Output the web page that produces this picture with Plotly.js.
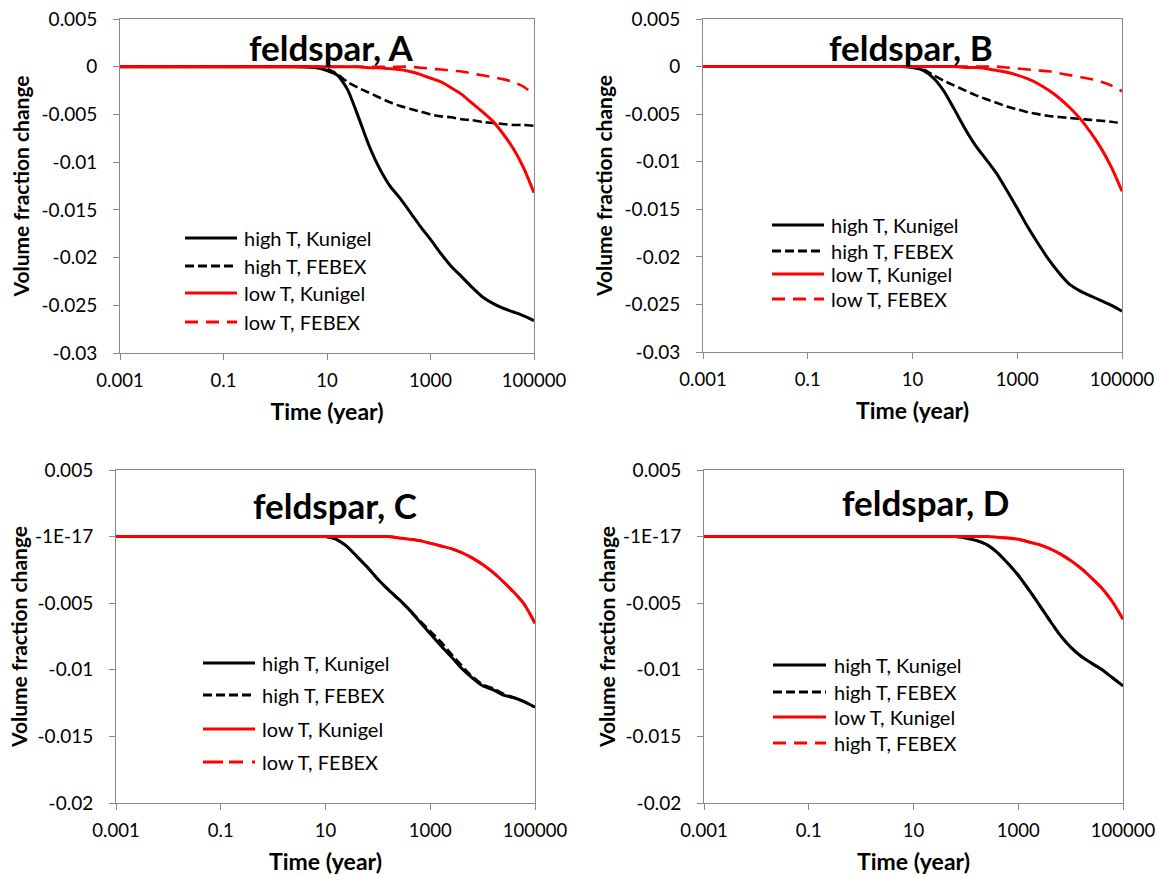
<!DOCTYPE html>
<html>
<head>
<meta charset="utf-8">
<script src="https://cdn.plot.ly/plotly-3.0.1.min.js"></script>
<style>html,body{margin:0;padding:0;background:#fff;}#chart{width:1156px;height:875px;}</style>
</head>
<body>
<div id="chart"></div>
<script>
// ---- data ----
const timeYears = [0.001, 0.01, 0.1, 1, 2.5, 6.3, 10, 16, 25, 40, 63, 100, 160, 250, 400, 630, 1000, 1600, 2500, 4000, 6300, 10000, 16000, 25000, 40000, 63000, 100000];
const xTickVals = [0.001, 0.1, 10, 1000, 100000];
const xTickText = ['0.001', '0.1', '10', '1000', '100000'];
const yTickValsAB = [0.005, 0, -0.005, -0.01, -0.015, -0.02, -0.025, -0.03];
const yTickTextAB = ['0.005', '0', '-0.005', '-0.01', '-0.015', '-0.02', '-0.025', '-0.03'];
const yTickValsCD = [0.005, 0, -0.005, -0.01, -0.015, -0.02];
const yTickTextCD = ['0.005', '-1E-17', '-0.005', '-0.01', '-0.015', '-0.02'];
const panelTitles = ['feldspar, A', 'feldspar, B', 'feldspar, C', 'feldspar, D'];
const seriesNamesABC = ['high T, Kunigel', 'high T, FEBEX', 'low T, Kunigel', 'low T, FEBEX'];
const seriesNamesD = ['high T, Kunigel', 'high T, FEBEX', 'low T, Kunigel', 'high T, FEBEX'];
const xTitle = 'Time (year)';
const yTitle = 'Volume fraction change';

const A_highKunigel = [0,0,0,0,0,-0.0001,-0.0004,-0.0009,-0.0024,-0.0052,-0.0081,-0.0105,-0.0124,-0.0137,-0.0152,-0.0167,-0.0181,-0.0196,-0.0209,-0.0220,-0.0231,-0.0241,-0.0248,-0.0253,-0.0257,-0.0261,-0.0266];
const A_highFEBEX   = [0,0,0,0,0,0,-0.0002,-0.0008,-0.0016,-0.0022,-0.0027,-0.0032,-0.0037,-0.0041,-0.0044,-0.0047,-0.0050,-0.0052,-0.0053,-0.0055,-0.0056,-0.0058,-0.0059,-0.0060,-0.0061,-0.0061,-0.0062];
const A_lowKunigel  = [0,0,0,0,0,0,0,0,0,0,-0.0001,-0.0001,-0.0002,-0.0003,-0.0005,-0.0008,-0.0012,-0.0016,-0.0022,-0.0029,-0.0038,-0.0047,-0.0057,-0.0070,-0.0086,-0.0106,-0.0132];
const A_lowFEBEX    = [0,0,0,0,0,0,0,0,0,0,0,0,0,0,0,-0.0001,-0.0002,-0.0003,-0.0004,-0.0005,-0.0007,-0.0009,-0.0011,-0.0013,-0.0016,-0.0021,-0.0029];

const B_highKunigel = [0,0,0,0,0,0,-0.0001,-0.0004,-0.0012,-0.0026,-0.0045,-0.0065,-0.0083,-0.0097,-0.0112,-0.0130,-0.0149,-0.0169,-0.0186,-0.0203,-0.0217,-0.0229,-0.0236,-0.0241,-0.0246,-0.0251,-0.0257];
const B_highFEBEX   = [0,0,0,0,0,0,0,-0.0003,-0.0009,-0.0015,-0.0020,-0.0025,-0.0030,-0.0034,-0.0038,-0.0042,-0.0045,-0.0048,-0.0050,-0.0052,-0.0053,-0.0054,-0.0055,-0.0056,-0.0057,-0.0058,-0.0060];
const B_lowKunigel  = [0,0,0,0,0,0,0,0,0,0,0,-0.0001,-0.0001,-0.0002,-0.0004,-0.0006,-0.0009,-0.0013,-0.0018,-0.0025,-0.0033,-0.0043,-0.0055,-0.0069,-0.0086,-0.0106,-0.0131];
const B_lowFEBEX    = [0,0,0,0,0,0,0,0,0,0,0,0,0,0,0,-0.0001,-0.0002,-0.0003,-0.0004,-0.0005,-0.0007,-0.0009,-0.0011,-0.0013,-0.0016,-0.0020,-0.0026];

const C_highKunigel = [0,0,0,0,0,0,0,-0.0002,-0.0007,-0.0015,-0.0023,-0.0032,-0.0040,-0.0047,-0.0055,-0.0064,-0.0073,-0.0082,-0.0090,-0.0099,-0.0106,-0.0112,-0.0115,-0.0119,-0.0121,-0.0124,-0.0128];
const C_highFEBEX   = [0,0,0,0,0,0,0,-0.0002,-0.0007,-0.0015,-0.0023,-0.0032,-0.0040,-0.0047,-0.0055,-0.0063,-0.0071,-0.0079,-0.0088,-0.0097,-0.0105,-0.0111,-0.0114,-0.0118,-0.0121,-0.0124,-0.0128];
const C_lowKunigel  = [0,0,0,0,0,0,0,0,0,0,0,0,0,-0.0001,-0.0002,-0.0003,-0.0005,-0.0007,-0.0009,-0.0012,-0.0016,-0.0021,-0.0027,-0.0034,-0.0042,-0.0051,-0.0065];
const C_lowFEBEX    = [0,0,0,0,0,0,0,0,0,0,0,0,0,-0.0001,-0.0002,-0.0003,-0.0005,-0.0007,-0.0009,-0.0012,-0.0016,-0.0021,-0.0027,-0.0034,-0.0042,-0.0051,-0.0065];

const D_highKunigel = [0,0,0,0,0,0,0,0,0,0,0,-0.0001,-0.0003,-0.0006,-0.0012,-0.0020,-0.0029,-0.0040,-0.0051,-0.0063,-0.0074,-0.0083,-0.0090,-0.0095,-0.0100,-0.0106,-0.0112];
const D_highFEBEX   = [0,0,0,0,0,0,0,0,0,0,0,-0.0001,-0.0003,-0.0006,-0.0012,-0.0020,-0.0029,-0.0040,-0.0051,-0.0063,-0.0074,-0.0083,-0.0090,-0.0095,-0.0100,-0.0106,-0.0112];
const D_lowKunigel  = [0,0,0,0,0,0,0,0,0,0,0,0,0,0,-0.00005,-0.0001,-0.0002,-0.0004,-0.0006,-0.0009,-0.0013,-0.0018,-0.0024,-0.0031,-0.0039,-0.0049,-0.0062];
const D_lowFEBEX    = [0,0,0,0,0,0,0,0,0,0,0,0,0,0,-0.00005,-0.0001,-0.0002,-0.0004,-0.0006,-0.0009,-0.0013,-0.0018,-0.0024,-0.0031,-0.0039,-0.0049,-0.0062];

// ---- layout / styling ----
const W = 1156, H = 875;
const FONT = 'Lato, Carlito, "Open Sans", sans-serif';
const AXC = '#898989';
const styles = [
  {color: '#000000', dash: 'solid', width: 3},
  {color: '#000000', dash: '9px,4px', width: 2.6},
  {color: '#ff0000', dash: 'solid', width: 3},
  {color: '#ff0000', dash: '13px,8px', width: 2.6}
];
const panels = [
  {series: [A_highKunigel, A_highFEBEX, A_lowKunigel, A_lowFEBEX], names: seriesNamesABC, box: [120, 534, 19, 353], yr: [-0.03, 0.005], tv: yTickValsAB, tt: yTickTextAB,
   title: [331, 47], ystand: 6, leg: {x0: 185, x1: 237, tx: 242, rows: [238, 266, 293, 322]}},
  {series: [B_highKunigel, B_highFEBEX, B_lowKunigel, B_lowFEBEX], names: seriesNamesABC, box: [703, 1122, 19, 352], yr: [-0.03, 0.005], tv: yTickValsAB, tt: yTickTextAB,
   title: [911, 47], ystand: 6, leg: {x0: 772, x1: 824, tx: 829, rows: [225, 251, 274, 299]}},
  {series: [C_highKunigel, C_highFEBEX, C_lowKunigel, C_lowFEBEX], names: seriesNamesABC, box: [116, 535, 470, 803], yr: [-0.02, 0.005], tv: yTickValsCD, tt: yTickTextCD,
   title: [335, 505], ystand: 1, leg: {x0: 203, x1: 255, tx: 260, rows: [663, 695, 729, 762], dash4: '20px,6px,14px,9px,3px,20px'}},
  {series: [D_highKunigel, D_highFEBEX, D_lowKunigel, D_lowFEBEX], names: seriesNamesD, box: [704, 1123, 470, 803], yr: [-0.02, 0.005], tv: yTickValsCD, tt: yTickTextCD,
   title: [925, 502], ystand: 1, leg: {x0: 773, x1: 826, tx: 832, rows: [665, 692, 717, 743]}}
];

const px = v => v / W;
const py = v => 1 - v / H;

const traces = [];
const layout = {
  width: W, height: H,
  margin: {l: 0, r: 0, t: 0, b: 0},
  paper_bgcolor: '#ffffff', plot_bgcolor: '#ffffff',
  showlegend: false,
  font: {family: FONT, color: '#000000'},
  annotations: [], shapes: []
};

panels.forEach((p, i) => {
  const n = i + 1;
  const xa = n === 1 ? 'x' : 'x' + n;
  const ya = n === 1 ? 'y' : 'y' + n;
  const xk = n === 1 ? 'xaxis' : 'xaxis' + n;
  const yk = n === 1 ? 'yaxis' : 'yaxis' + n;
  p.series.forEach((vals, k) => {
    traces.push({
      type: 'scatter', mode: 'lines', x: timeYears, y: vals, name: p.names[k],
      xaxis: xa, yaxis: ya,
      line: {color: styles[k].color, width: styles[k].width, dash: styles[k].dash, shape: 'spline', smoothing: 0.6},
      hoverinfo: 'x+y+name'
    });
  });
  const [L, R, T, B] = p.box;
  layout[xk] = {
    type: 'log', domain: [px(L), px(R)], range: [-3, 5], anchor: ya,
    tickmode: 'array', tickvals: xTickVals, ticktext: xTickText,
    showline: true, mirror: true, linecolor: AXC, linewidth: 1,
    ticks: 'outside', ticklen: 6, tickcolor: AXC, tickwidth: 1,
    showgrid: false, zeroline: false, ticklabelstandoff: 5, ticklabeloverflow: 'allow',
    tickfont: {family: FONT, size: 18.5, color: '#000'},
    title: {text: xTitle, font: {family: FONT, size: 23, weight: 700, color: '#000'}, standoff: 13}
  };
  layout[yk] = {
    domain: [py(B), py(T)], range: p.yr, anchor: xa,
    tickmode: 'array', tickvals: p.tv, ticktext: p.tt,
    showline: true, mirror: true, linecolor: AXC, linewidth: 1,
    ticks: 'outside', ticklen: 6, tickcolor: AXC, tickwidth: 1,
    showgrid: false, zeroline: false, ticklabelstandoff: 12, ticklabeloverflow: 'allow',
    tickfont: {family: FONT, size: 19, color: '#000'},
    title: {text: yTitle, font: {family: FONT, size: 21, weight: 700, color: '#000'}, standoff: p.ystand}
  };
  layout.annotations.push({
    xref: 'paper', yref: 'paper', x: px(p.title[0]), y: py(p.title[1]),
    xanchor: 'center', yanchor: 'middle', showarrow: false,
    text: panelTitles[i], font: {family: FONT, size: 35, weight: 700, color: '#000'}
  });
  p.leg.rows.forEach((ry, k) => {
    const dash = (k === 3 && p.leg.dash4) ? p.leg.dash4 : styles[k].dash;
    layout.shapes.push({
      type: 'line', xref: 'paper', yref: 'paper',
      x0: px(p.leg.x0), x1: px(p.leg.x1), y0: py(ry), y1: py(ry),
      line: {color: styles[k].color, width: 3, dash: dash}
    });
    layout.annotations.push({
      xref: 'paper', yref: 'paper', x: px(p.leg.tx), y: py(ry),
      xanchor: 'left', yanchor: 'middle', showarrow: false,
      text: p.names[k], font: {family: FONT, size: 20, color: '#000'}
    });
  });
});

Plotly.newPlot('chart', traces, layout, {staticPlot: true, displayModeBar: false});
</script>
</body>
</html>
